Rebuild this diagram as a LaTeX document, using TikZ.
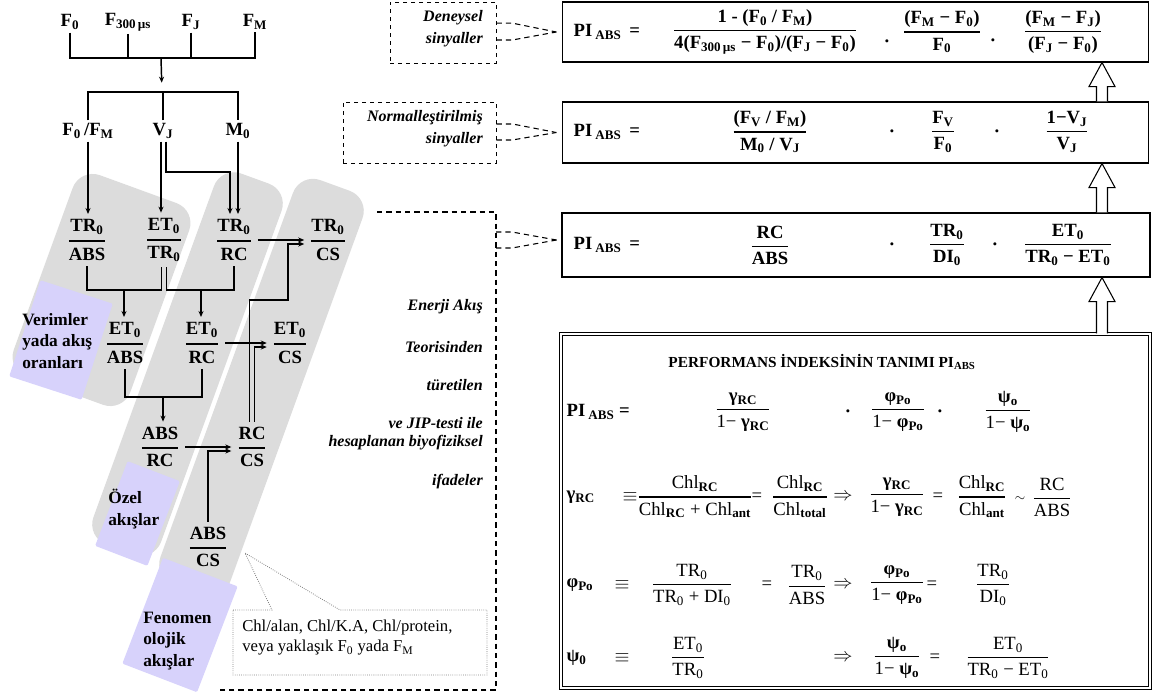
\documentclass[tikz,border=0pt]{standalone}
\usepackage{amsmath}
\usepackage{fontspec}
\setmainfont{Liberation Serif}
\usetikzlibrary{calc,arrows.meta,positioning}
\definecolor{bandgray}{HTML}{DCDCDC}
\definecolor{lilac}{HTML}{D7D2FB}
\newcommand{\subx}[1]{\textsubscript{#1}}
\newcommand{\subb}[1]{\textsubscript{\textbf{#1}}}
\newcommand{\fr}[2]{$\genfrac{}{}{0.9pt}{0}{\text{#1}}{\text{#2}}$}
\newcommand{\frb}[2]{$\genfrac{}{}{1.4pt}{0}{\text{#1}}{\text{#2}}$}
\newcommand{\gRC}{\textbf{γ\subx{RC}}}
\newcommand{\phPo}{\textbf{φ\subx{Po}}}
\newcommand{\psO}{\textbf{ψ\subx{o}}}
\tikzset{
  ar/.style={-{Stealth[length=4.5pt,width=3.8pt]},line width=1.1pt},
  ln/.style={line width=1.2pt},
  lbl/.style={font=\bfseries\fontsize{14}{17}\selectfont,inner sep=2pt},
  frc/.style={font=\bfseries\fontsize{14}{17}\selectfont,inner sep=4pt},
  band/.style={fill=bandgray,rounded corners=16pt,inner sep=0pt},
  lila/.style={fill=lilac,rounded corners=1pt,inner sep=0pt},
  ptxt/.style={font=\bfseries\fontsize{13}{16}\selectfont,align=left,anchor=west,inner sep=0pt},
  itl/.style={font=\bfseries\itshape\fontsize{12}{14}\selectfont,anchor=east,inner sep=0pt},
  dbox/.style={draw,dashed,line width=0.7pt,inner sep=0pt},
  dconn/.style={dash pattern=on 4pt off 3pt,line width=0.8pt},
  fbox/.style={draw,line width=0.8pt,inner sep=0pt},
  eq/.style={font=\bfseries\fontsize{14}{17}\selectfont,inner sep=1pt},
  eqr/.style={font=\fontsize{14}{17}\selectfont,inner sep=1pt},
  hollow/.style={fill=white,draw,line width=0.8pt},
  callout/.style={densely dotted,gray,line width=0.6pt}
}
\begin{document}
\begin{tikzpicture}[x=0.75pt,y=-0.75pt]
\useasboundingbox (0,0) rectangle (1156,697);
% grey bands and lilac tags
\node[band,rotate=-20,minimum width=93pt,minimum height=161pt] (band1) at (101.5,290) {};
\node[band,rotate=-20,minimum width=54pt,minimum height=296pt] (band2) at (187.5,364) {};
\node[band,rotate=-20,minimum width=55.5pt,minimum height=322.5pt] (band3) at (261.5,387.5) {};
\node[lila,rotate=-18,minimum width=57pt,minimum height=75.75pt] (tag1) at (61,340) {};
\node[lila,rotate=-21,minimum width=42pt,minimum height=68pt] (tag2) at (137.5,513.5) {};
\node[lila,rotate=-21,minimum width=60pt,minimum height=85pt] (tag3) at (180,625) {};
\node[ptxt] (tag1t) at (22,341) {Verimler\\yada akış\\oranları};
\node[ptxt] (tag2t) at (108,509) {Özel\\akışlar};
\node[ptxt] (tag3t) at (143,641) {Fenomen\\olojik\\akışlar};

% signals
\node[lbl] (f0) at (70,22) {F\subx{0}};
\node[lbl] (f300) at (128,22) {F\subx{300\,µs}};
\node[lbl] (fj) at (191,22) {F\subx{J}};
\node[lbl] (fm) at (255,22) {F\subx{M}};
\coordinate (bar1) at (161,58);
\coordinate (bar2) at (162,92);
\draw[ln] (f0.south) -- (f0.south |- bar1) -- (fm.south |- bar1) -- (fm.south);
\foreach \n in {f300,fj} \draw[ln] (\n.south) -- (\n.south |- bar1);
\draw[ar,shorten >=7pt] (bar1) -- (bar2);
\node[lbl] (fofm) at (88,131) {F\subx{0}\,/F\subx{M}};
\node[lbl] (vj) at (163,131) {V\subx{J}};
\node[lbl] (mo) at (238,131) {M\subx{0}};
\draw[line width=2.2pt] (fofm.north) -- (fofm.north |- bar2) -- (mo.north |- bar2) -- (mo.north);
\draw[line width=2.2pt] (vj.north) -- (vj.north |- bar2);

% fluxes
\node[frc] (tra) at (87,240) {\frb{TR\subx{0}}{ABS}};
\node[frc] (ett) at (164,240) {\frb{ET\subx{0}}{TR\subx{0}}};
\node[frc] (trc) at (234,240) {\frb{TR\subx{0}}{RC}};
\node[frc] (trcs) at (328,240) {\frb{TR\subx{0}}{CS}};
\node[frc] (eta) at (125,343) {\frb{ET\subx{0}}{ABS}};
\node[frc] (etr) at (202,343) {\frb{ET\subx{0}}{RC}};
\node[frc] (etcs) at (290,343) {\frb{ET\subx{0}}{CS}};
\node[frc] (abr) at (160,447) {\frb{ABS}{RC}};
\node[frc] (rccs) at (252,447) {\frb{RC}{CS}};
\node[frc] (abcs) at (208,547) {\frb{ABS}{CS}};

\draw[ar] (fofm.south) -- (fofm.south |- tra.north);
\coordinate (vjl) at ([xshift=-1.5pt]vj.south);
\coordinate (vjr) at ([xshift=2pt]vj.south);
\coordinate (vjk) at (230,172);
\draw[ar,line width=1.7pt] (vjl) -- (vjl |- ett.north);
\draw[ar,line width=1.7pt] (vjr) |- (vjk) -- (vjk |- trc.north);
\draw[ar] (mo.south) -- (mo.south |- trc.north);

\coordinate (ettl) at ([xshift=-2pt]ett.south);
\coordinate (ettr) at ([xshift=2pt]ett.south);
\coordinate (j1) at (124,290);
\coordinate (j2) at (201,290);
\coordinate (j3) at (163,397);
\draw[ln] (tra.south) |- (ettl |- j1) -- (ettl);
\draw[ar] (j1) -- (j1 |- eta.north);
\draw[ln] (ettr) |- (trc.south |- j2) -- (trc.south);
\draw[ar] (j2) -- (j2 |- etr.north);
\draw[ln] (eta.south) |- (etr.south |- j3) -- (etr.south);
\draw[ar] (j3) -- (j3 |- abr.north);

\draw[ar] (trc.east) -- (trcs.west);
\draw[ar] (etr.east) -- (etcs.west);
\draw[ar] (abr.east) -- (rccs.west);
\coordinate (rcl) at ([xshift=-2pt]rccs.north);
\coordinate (rcr) at ([xshift=2pt]rccs.north);
\coordinate (k1) at (288,300);
\coordinate (etlo) at ([yshift=-3pt]etcs.west);
\coordinate (trlo) at ([yshift=-3pt]trcs.west);
\coordinate (rclo) at ([yshift=-3pt]rccs.west);
\draw[ar,line width=0.8pt] (rcr) |- (etlo);
\draw[ar,line width=0.8pt] (rcl) |- (k1) |- (trlo);
\draw[ar,line width=0.8pt] (abcs.north) |- (rclo);

% callout
\node[font=\fontsize{12.5}{15}\selectfont,align=left,anchor=west,inner sep=0pt] (cnt) at (242,638) {Chl/alan, Chl/K.A, Chl/protein,\\veya yaklaşık F\subx{0} yada F\subx{M}};
\coordinate (cnw) at (233,610);
\coordinate (cse) at (487,675);
\coordinate (cpt) at (245,553);
\draw[callout] (cnw) -- ++(39,0) -- (cpt) -- ($(cnw)+(107,0)$) -| (cse) -| (cnw);

% dashed labels
\node[dbox,minimum width=79.5pt,minimum height=45.75pt] (da) at (443,32.5) {};
\node[itl] (da1) at (483,18) {Deneysel};
\node[itl] (da2) at (483,40) {sinyaller};
\node[dbox,minimum width=114.75pt,minimum height=45.75pt] (db) at (419.5,132.5) {};
\node[itl] (db1) at (483,118) {Normalleştirilmiş};
\node[itl] (db2) at (483,140) {sinyaller};
\coordinate (dc1) at (377,212);
\coordinate (dc2) at (496,690);
\coordinate (dc3) at (220,690);
\draw[dconn] (dc1) -| (dc2) -- (dc3);
\coordinate (dcE) at (496,240);
\foreach \yy/\tx in {307/Enerji Akış,347/Teorisinden,385/türetilen,423/ve JIP-testi ile,443/hesaplanan biyofiziksel,482/ifadeler}
  \node[itl] (c\yy) at (483,\yy) {\tx};

% formula boxes
\node[fbox,minimum width=440pt,minimum height=45pt] (b1) at (855.5,32) {};
\node[fbox,minimum width=440pt,minimum height=45.75pt] (b2) at (855.5,132.5) {};
\node[fbox,minimum width=441pt,minimum height=48pt] (b3) at (856,245) {};
\node[fbox,double,double distance=1.6pt,line width=0.6pt,minimum width=442pt,minimum height=266pt] (b4) at (855.5,511) {};
\coordinate (b3tip) at ($(b3.west)+(-5,-5)$);

\draw[dconn] ([yshift=7pt]da.east) -- ++(16,0) -- ([xshift=-4pt]b1.west);
\draw[dconn] ([yshift=-5.6pt]da.east) -- ++(16,0) -- ([xshift=-4pt]b1.west);
\draw[dconn] ([yshift=6.4pt]db.east) -- ++(16,0) -- ([xshift=-4pt]b2.west);
\draw[dconn] ([yshift=-5.6pt]db.east) -- ++(16,0) -- ([xshift=-4pt]b2.west);
\draw[dconn] ([yshift=6pt]dcE) -- ++(16,0) -- (b3tip);
\draw[dconn] ([yshift=-6pt]dcE) -- ++(16,0) -- (b3tip);

\coordinate (ax) at (1102,0);
\foreach \lo/\hi in {b2/b1,b3/b2,b4/b3}
  \draw[hollow] ($(ax |- \lo.north)+(-5.5,0)$) -- ($(ax |- \hi.south)+(-5.5,24)$) -- ++(-7.5,0) -- (ax |- \hi.south) -- ($(ax |- \hi.south)+(13,24)$) -- ++(-7.5,0) -- ($(ax |- \lo.north)+(5.5,0)$);

% box 1
\node[eq,anchor=west] (p1) at (572,32) {PI\,\subx{ABS} \,=};
\node[eq] (p1a) at (765,32) {\fr{1 - (F\subx{0} / F\subx{M})}{4(F\subx{300\,µs} − F\subx{0})/(F\subx{J} − F\subx{0})}};
\node[eq] (p1b) at (887,44) {·};
\node[eq] (p1c) at (942,32) {\fr{(F\subx{M} − F\subx{0})}{F\subx{0}}};
\node[eq] (p1d) at (993,43) {·};
\node[eq] (p1e) at (1063,32) {\fr{(F\subx{M} − F\subx{J})}{(F\subx{J} − F\subx{0})}};
% box 2
\node[eq,anchor=west] (p2) at (572,132) {PI\,\subx{ABS} \,=};
\node[eq] (p2a) at (770,132) {\fr{(F\subx{V} / F\subx{M})}{M\subx{0} / V\subx{J}}};
\node[eq] (p2b) at (892,134) {·};
\node[eq] (p2c) at (943,132) {\fr{F\subx{V}}{F\subx{0}}};
\node[eq] (p2d) at (997,134) {·};
\node[eq] (p2e) at (1067,132) {\fr{1−V\subx{J}}{V\subx{J}}};
% box 3
\node[eq,anchor=west] (p3) at (572,245) {PI\,\subx{ABS} \,=};
\node[eq] (p3a) at (770,245) {\fr{RC}{ABS}};
\node[eq] (p3b) at (892,247) {·};
\node[eq] (p3c) at (947,245) {\fr{TR\subx{0}}{DI\subx{0}}};
\node[eq] (p3d) at (995,247) {·};
\node[eq] (p3e) at (1068,245) {\fr{ET\subx{0}}{TR\subx{0} − ET\subx{0}}};
% box 4
\node[font=\bfseries\fontsize{11.5}{14}\selectfont,inner sep=1pt] (b4t) at (822,362) {PERFORMANS İNDEKSİNİN TANIMI PI\subx{ABS}};
\node[eq,anchor=west] (q0) at (565,412) {PI\,\subx{ABS} =};
\node[eqr] (q1) at (743,412) {\fr{\gRC}{1− \gRC}};
\node[eq] (q2) at (848,414) {·};
\node[eqr] (q3) at (898,412) {\fr{\phPo}{1− \phPo}};
\node[eq] (q4) at (940,414) {·};
\node[eqr] (q5) at (1008,412) {\fr{\psO}{1− \psO}};

\node[eqr,anchor=west] (g0) at (565,497) {\gRC};
\node[eqr] (g1) at (630,497) {$\equiv$};
\node[eqr] (g2) at (695,497) {\fr{Chl\subb{RC}}{Chl\subb{RC} + Chl\subb{ant}}};
\node[eqr] (g3) at (757,497) {=};
\node[eqr] (g4) at (800,497) {\fr{Chl\subb{RC}}{Chl\subb{total}}};
\node[eqr] (g5) at (843,497) {$\Rightarrow$};
\node[eqr] (g6) at (897,497) {\fr{\gRC}{1− \gRC}};
\node[eqr] (g7) at (938,497) {=};
\node[eqr] (g8) at (982,497) {\fr{Chl\subb{RC}}{Chl\subb{ant}}};
\node[eqr] (g9) at (1020,499) {\fontsize{10}{12}\selectfont$\sim$};
\node[eqr] (g10) at (1052,497) {\fr{RC}{ABS}};

\node[eqr,anchor=west] (h0) at (565,585) {\phPo};
\node[eqr] (h1) at (622,585) {$\equiv$};
\node[eqr] (h2) at (692,585) {\fr{TR\subx{0}}{TR\subx{0} + DI\subx{0}}};
\node[eqr] (h3) at (767,585) {=};
\node[eqr] (h4) at (807,585) {\fr{TR\subx{0}}{ABS}};
\node[eqr] (h5) at (843,585) {$\Rightarrow$};
\node[eqr] (h6) at (897,585) {\fr{\phPo}{1− \phPo}};
\node[eqr] (h7) at (932,585) {=};
\node[eqr] (h8) at (993,585) {\fr{TR\subx{0}}{DI\subx{0}}};

\node[eqr,anchor=west] (s0) at (565,658) {\textbf{ψ\subx{0}}};
\node[eqr] (s1) at (622,658) {$\equiv$};
\node[eqr] (s2) at (688,658) {\fr{ET\subx{0}}{TR\subx{0}}};
\node[eqr] (s5) at (843,658) {$\Rightarrow$};
\node[eqr] (s6) at (897,658) {\fr{\psO}{1− \psO}};
\node[eqr] (s7) at (935,658) {=};
\node[eqr] (s8) at (1008,658) {\fr{ET\subx{0}}{TR\subx{0} − ET\subx{0}}};
\end{tikzpicture}
\end{document}
